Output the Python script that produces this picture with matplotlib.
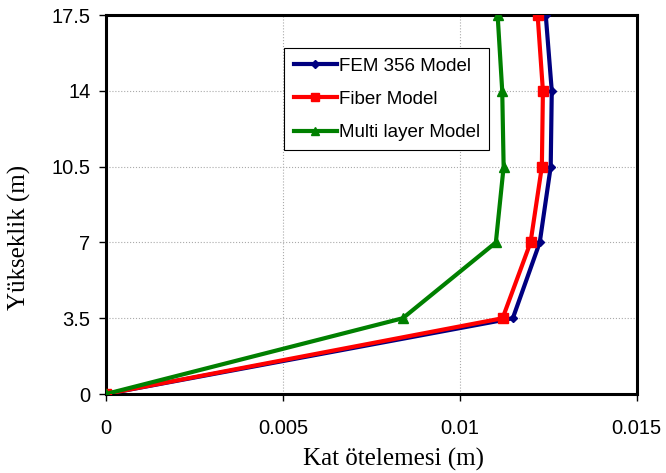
import matplotlib.pyplot as plt

# kat yükseklikleri ve ötelemeler
heights = [0, 3.5, 7, 10.5, 14, 17.5]
fem_356 = [0, 0.01150, 0.01226, 0.01257, 0.01260, 0.01243]
fiber = [0, 0.01121, 0.01200, 0.01232, 0.01235, 0.01220]
multi_layer = [0, 0.00839, 0.01102, 0.01124, 0.01120, 0.01107]

x_ticks = [0, 0.005, 0.01, 0.015]
x_tick_labels = ['0', '0.005', '0.01', '0.015']
y_ticks = [0, 3.5, 7, 10.5, 14, 17.5]
y_tick_labels = ['0', '3.5', '7', '10.5', '14', '17.5']

fig = plt.figure(figsize=(6.66, 4.73), dpi=100)
ax = fig.add_axes([0.159, 0.167, 0.797, 0.801])

ax.plot(fem_356, heights, color='#000080', lw=3, marker='D', ms=4.5,
        label='FEM 356 Model', zorder=3)
ax.plot(fiber, heights, color='#ff0000', lw=3, marker='s', ms=6.5,
        label='Fiber Model', zorder=4)
ax.plot(multi_layer, heights, color='#008000', lw=3, marker='^', ms=6.5,
        label='Multi layer Model', zorder=5)

ax.set_xlim(0, 0.015)
ax.set_ylim(0, 17.5)
ax.set_xticks(x_ticks)
ax.set_xticklabels(x_tick_labels, fontfamily='Liberation Sans', fontsize=14.5)
ax.set_yticks(y_ticks)
ax.set_yticklabels(y_tick_labels, fontfamily='Liberation Sans', fontsize=14.5)
ax.tick_params(direction='out', length=5, width=1, pad=6)
ax.tick_params(axis='x', pad=13)

ax.grid(True, color='#aaaaaa', linestyle=':', linewidth=0.8)
ax.set_axisbelow(True)
for sp in ax.spines.values():
    sp.set_linewidth(2.2)
    sp.set_color('black')

ax.set_xlabel('Kat ötelemesi (m)', fontfamily='Liberation Serif', fontsize=18)
ax.set_ylabel('Yükseklik (m)', fontfamily='Liberation Serif', fontsize=18)
ax.xaxis.label.set_va('center')
ax.yaxis.label.set_va('center')
ax.xaxis.set_label_coords(0.542, -0.172)
ax.yaxis.set_label_coords(-0.162, 0.414)

leg = ax.legend(loc='upper left', bbox_to_anchor=(0.336, 0.912), fancybox=False,
                edgecolor='black', framealpha=1, handlelength=2.3, handletextpad=0.1,
                borderpad=0.5, borderaxespad=0, labelspacing=0.85, markerscale=0.8,
                prop={'family': 'Liberation Sans', 'size': 13.5})
leg.get_frame().set_linewidth(0.8)

plt.savefig('out.png', dpi=100)
